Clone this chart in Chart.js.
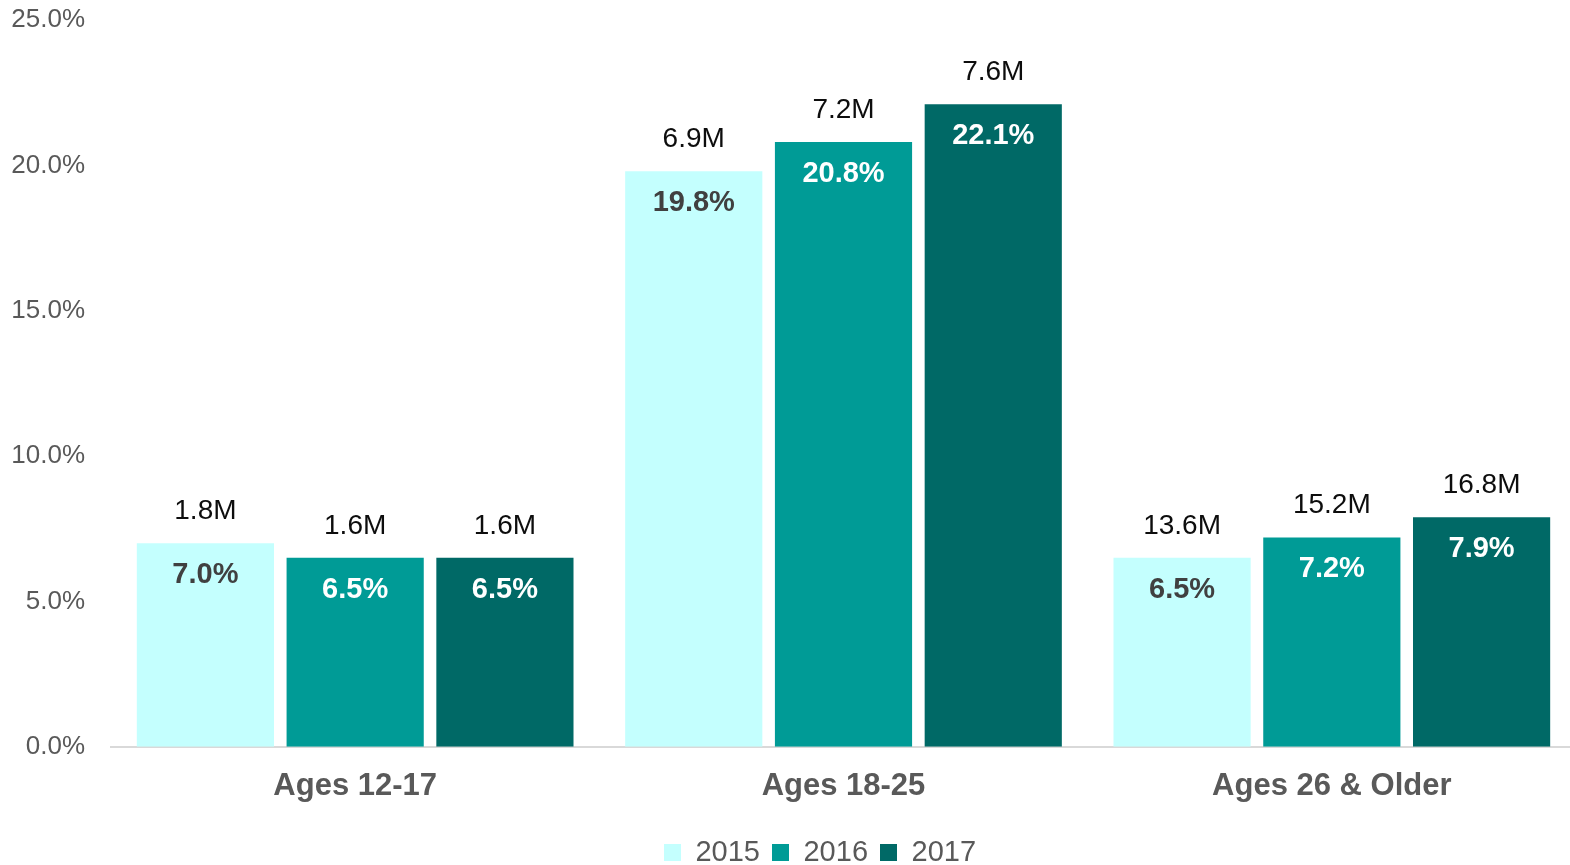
<!DOCTYPE html>
<html>
<head>
<meta charset="utf-8">
<script src="https://cdn.jsdelivr.net/npm/chart.js@4.4.1/dist/chart.umd.min.js"></script>
<style>
  html, body { margin: 0; padding: 0; background: #fff; }
  #wrap { width: 1570px; height: 865px; position: relative; }
</style>
</head>
<body>
<div id="wrap"><canvas id="chart"></canvas></div>
<script>
const categories = ['Ages 12-17', 'Ages 18-25', 'Ages 26 & Older'];
const years = ['2015', '2016', '2017'];
const pct2015 = [7.0, 19.8, 6.5];
const pct2016 = [6.5, 20.8, 7.2];
const pct2017 = [6.5, 22.1, 7.9];
const count2015 = ['1.8M', '6.9M', '13.6M'];
const count2016 = ['1.6M', '7.2M', '15.2M'];
const count2017 = ['1.6M', '7.6M', '16.8M'];
const yTicks = [0, 5, 10, 15, 20, 25];

const colors = ['#C4FFFE', '#009B96', '#006966'];
const innerColors = ['#404040', '#FFFFFF', '#FFFFFF'];
const counts = [count2015, count2016, count2017];
const FONT = '"Liberation Sans", Arial, sans-serif';

// draws the count above each bar and the percent just inside its top
const barLabels = {
    id: 'barLabels',
    afterDatasetsDraw(chart) {
        const ctx = chart.ctx;
        ctx.save();
        ctx.textAlign = 'center';
        ctx.textBaseline = 'middle';
        chart.data.datasets.forEach((ds, di) => {
            const meta = chart.getDatasetMeta(di);
            meta.data.forEach((bar, i) => {
                ctx.font = '28px ' + FONT;
                ctx.fillStyle = '#0D0D0D';
                ctx.fillText(counts[di][i], bar.x, bar.y - 32);
                ctx.font = 'bold 29px ' + FONT;
                ctx.fillStyle = innerColors[di];
                ctx.fillText(ds.data[i].toFixed(1) + '%', bar.x, bar.y + 32);
            });
        });
        ctx.restore();
    }
};

// original's plot runs a few px past the right edge, and its legend sits right of centre
const layoutTweak = {
    id: 'layoutTweak',
    afterLayout(chart) {
        const x = chart.scales.x;
        x.right += 6;
        x.width += 6;
        chart.chartArea.right += 6;
        x.configure();
        chart.legend.left += 30;
        chart.legend.right += 30;
    }
};

const ctx = document.getElementById('chart').getContext('2d');
new Chart(ctx, {
    type: 'bar',
    data: {
        labels: categories,
        datasets: [pct2015, pct2016, pct2017].map((d, i) => ({
            label: years[i],
            data: d,
            backgroundColor: colors[i],
            categoryPercentage: 0.92,
            barPercentage: 0.916
        }))
    },
    options: {
        responsive: true,
        maintainAspectRatio: false,
        animation: false,
        layout: { padding: { left: 10, right: 0, top: 0, bottom: -12 } },
        plugins: {
            legend: {
                position: 'bottom',
                labels: {
                    boxWidth: 17,
                    boxHeight: 17,
                    padding: 12,
                    color: '#595959',
                    font: { size: 29, family: FONT }
                }
            },
            tooltip: { enabled: false }
        },
        scales: {
            x: {
                grid: { display: false, drawTicks: false },
                border: { display: true, color: '#D9D9D9', width: 2 },
                ticks: {
                    color: '#595959',
                    padding: 21,
                    font: { size: 31, weight: 'bold', family: FONT }
                }
            },
            y: {
                min: 0,
                max: 25,
                grid: { display: false, drawTicks: false },
                border: { display: false },
                afterBuildTicks: (axis) => { axis.ticks = yTicks.map(v => ({ value: v })); },
                afterFit: (axis) => { axis.width = 101; axis.paddingTop = 20; },
                ticks: {
                    color: '#595959',
                    padding: 26,
                    font: { size: 26, family: FONT },
                    callback: (v) => v.toFixed(1) + '%'
                }
            }
        }
    },
    plugins: [barLabels, layoutTweak]
});
</script>
</body>
</html>
